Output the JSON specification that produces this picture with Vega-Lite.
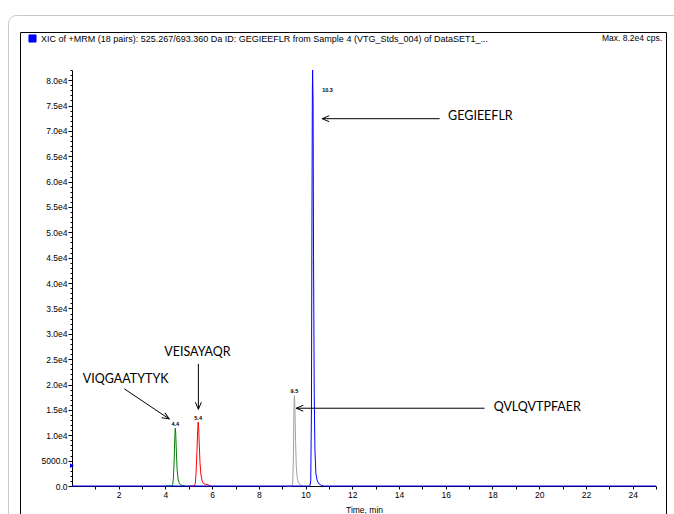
{
  "$schema": "https://vega.github.io/schema/vega-lite/v6.json",
  "width": 646,
  "height": 482,
  "autosize": {"type": "none"},
  "padding": {"left": 20, "top": 32, "right": 8, "bottom": 0},
  "background": "white",
  "title": {"text": "Max. 8.2e4 cps.", "anchor": "end", "frame": "group", "offset": -27.5, "dx": -4, "font": "Liberation Sans", "fontSize": 8.5, "fontWeight": "normal", "color": "black"},
  "config": {
    "view": {"stroke": "black", "strokeWidth": 1},
    "axis": {"labelFont": "Liberation Sans", "labelFontSize": 8.5, "labelColor": "black", "titleFont": "Liberation Sans", "titleFontSize": 8.5, "titleFontWeight": "normal", "titleColor": "black", "domainColor": "black", "tickColor": "black", "grid": false}
  },
  "datasets": {
    "traces": [
      {"pep": "VIQGAATYTYK", "t": 4.0, "v": 0}, {"pep": "VIQGAATYTYK", "t": 4.28, "v": 0}, {"pep": "VIQGAATYTYK", "t": 4.31, "v": 300}, {"pep": "VIQGAATYTYK", "t": 4.34, "v": 1500}, {"pep": "VIQGAATYTYK", "t": 4.37, "v": 4500}, {"pep": "VIQGAATYTYK", "t": 4.40, "v": 9500}, {"pep": "VIQGAATYTYK", "t": 4.42, "v": 11400}, {"pep": "VIQGAATYTYK", "t": 4.44, "v": 10500}, {"pep": "VIQGAATYTYK", "t": 4.47, "v": 6500}, {"pep": "VIQGAATYTYK", "t": 4.50, "v": 3200}, {"pep": "VIQGAATYTYK", "t": 4.54, "v": 1500}, {"pep": "VIQGAATYTYK", "t": 4.58, "v": 700}, {"pep": "VIQGAATYTYK", "t": 4.64, "v": 300}, {"pep": "VIQGAATYTYK", "t": 4.72, "v": 100}, {"pep": "VIQGAATYTYK", "t": 4.85, "v": 0},
      {"pep": "VEISAYAQR", "t": 5.0, "v": 0}, {"pep": "VEISAYAQR", "t": 5.24, "v": 0}, {"pep": "VEISAYAQR", "t": 5.28, "v": 500}, {"pep": "VEISAYAQR", "t": 5.31, "v": 2500}, {"pep": "VEISAYAQR", "t": 5.35, "v": 7000}, {"pep": "VEISAYAQR", "t": 5.38, "v": 11000}, {"pep": "VEISAYAQR", "t": 5.40, "v": 12600}, {"pep": "VEISAYAQR", "t": 5.42, "v": 11800}, {"pep": "VEISAYAQR", "t": 5.45, "v": 8000}, {"pep": "VEISAYAQR", "t": 5.48, "v": 4500}, {"pep": "VEISAYAQR", "t": 5.52, "v": 2200}, {"pep": "VEISAYAQR", "t": 5.57, "v": 1000}, {"pep": "VEISAYAQR", "t": 5.63, "v": 500}, {"pep": "VEISAYAQR", "t": 5.70, "v": 350}, {"pep": "VEISAYAQR", "t": 5.78, "v": 300}, {"pep": "VEISAYAQR", "t": 5.86, "v": 150}, {"pep": "VEISAYAQR", "t": 5.95, "v": 0},
      {"pep": "QVLQVTPFAER", "t": 9.2, "v": 0}, {"pep": "QVLQVTPFAER", "t": 9.42, "v": 0}, {"pep": "QVLQVTPFAER", "t": 9.45, "v": 800}, {"pep": "QVLQVTPFAER", "t": 9.48, "v": 6000}, {"pep": "QVLQVTPFAER", "t": 9.50, "v": 15000}, {"pep": "QVLQVTPFAER", "t": 9.52, "v": 17800}, {"pep": "QVLQVTPFAER", "t": 9.54, "v": 16000}, {"pep": "QVLQVTPFAER", "t": 9.57, "v": 9000}, {"pep": "QVLQVTPFAER", "t": 9.60, "v": 4000}, {"pep": "QVLQVTPFAER", "t": 9.64, "v": 1600}, {"pep": "QVLQVTPFAER", "t": 9.70, "v": 600}, {"pep": "QVLQVTPFAER", "t": 9.78, "v": 200}, {"pep": "QVLQVTPFAER", "t": 9.88, "v": 0},
      {"pep": "GEGIEEFLR", "t": 0, "v": 0}, {"pep": "GEGIEEFLR", "t": 10.18, "v": 0}, {"pep": "GEGIEEFLR", "t": 10.22, "v": 1000}, {"pep": "GEGIEEFLR", "t": 10.25, "v": 15000}, {"pep": "GEGIEEFLR", "t": 10.27, "v": 50000}, {"pep": "GEGIEEFLR", "t": 10.29, "v": 78000}, {"pep": "GEGIEEFLR", "t": 10.30, "v": 82000}, {"pep": "GEGIEEFLR", "t": 10.32, "v": 76000}, {"pep": "GEGIEEFLR", "t": 10.34, "v": 45000}, {"pep": "GEGIEEFLR", "t": 10.37, "v": 18000}, {"pep": "GEGIEEFLR", "t": 10.40, "v": 7000}, {"pep": "GEGIEEFLR", "t": 10.44, "v": 2500}, {"pep": "GEGIEEFLR", "t": 10.50, "v": 1000}, {"pep": "GEGIEEFLR", "t": 10.58, "v": 400}, {"pep": "GEGIEEFLR", "t": 10.68, "v": 100}, {"pep": "GEGIEEFLR", "t": 10.78, "v": 0}, {"pep": "GEGIEEFLR", "t": 25, "v": 0}
    ],
    "peaks": [
      {"lab": "4.4", "t": 4.42, "v": 12300},
      {"lab": "5.4", "t": 5.40, "v": 13500},
      {"lab": "9.5", "t": 9.52, "v": 18800},
      {"lab": "10.3", "t": 10.94, "v": 78100}
    ],
    "arrows": [
      {"name": "GEGIEEFLR", "t": 10.71, "v": 72400, "t2": 15.74, "v2": 72400},
      {"name": "QVLQVTPFAER", "t": 9.6, "v": 15330, "t2": 17.66, "v2": 15330},
      {"name": "VEISAYAQR", "t": 5.41, "v": 15130, "t2": 5.41, "v2": 24080},
      {"name": "VIQGAATYTYK", "t": 4.16, "v": 13220, "t2": 2.24, "v2": 19145}
    ],
    "notes": [
      {"name": "GEGIEEFLR", "t": 16.1, "v": 73000},
      {"name": "QVLQVTPFAER", "t": 18.05, "v": 15600},
      {"name": "VEISAYAQR", "t": 3.95, "v": 26500},
      {"name": "VIQGAATYTYK", "t": 0.46, "v": 21000}
    ],
    "marker": [
      {"what": "threshold", "t": 0, "v": 4000}
    ]
  },
  "encoding": {
    "x": {
      "field": "t", "type": "quantitative",
      "scale": {"domain": [0, 25], "range": [52, 636], "nice": false, "zero": false},
      "axis": {"title": "Time, min", "orient": "bottom", "offset": -28, "values": [1,2,3,4,5,6,7,8,9,10,11,12,13,14,15,16,17,18,19,20,21,22,23,24,25], "labelExpr": "datum.value % 2 === 0 ? datum.label : ''", "tickSize": 3, "labelPadding": 1, "titlePadding": 7, "labelOverlap": false, "labelFlush": false}
    },
    "y": {
      "field": "v", "type": "quantitative",
      "scale": {"domain": [0, 82000], "range": [454, 38], "nice": false, "zero": false},
      "axis": {"title": null, "orient": "left", "offset": -52, "values": [0,1000,2000,3000,4000,5000,6000,7000,8000,9000,10000,11000,12000,13000,14000,15000,16000,17000,18000,19000,20000,21000,22000,23000,24000,25000,26000,27000,28000,29000,30000,31000,32000,33000,34000,35000,36000,37000,38000,39000,40000,41000,42000,43000,44000,45000,46000,47000,48000,49000,50000,51000,52000,53000,54000,55000,56000,57000,58000,59000,60000,61000,62000,63000,64000,65000,66000,67000,68000,69000,70000,71000,72000,73000,74000,75000,76000,77000,78000,79000,80000,81000,82000], "labelExpr": "datum.value % 5000 !== 0 ? '' : (datum.value === 0 ? '0.0' : (datum.value === 5000 ? '5000.0' : format(datum.value / 10000, '.1f') + 'e4'))", "tickSize": {"condition": {"test": "datum.value % 5000 === 0", "value": 4}, "value": 2}, "labelPadding": 1, "labelOverlap": false, "labelFlush": false}
    }
  },
  "layer": [
    {
      "data": {"name": "traces"},
      "mark": {"type": "line", "strokeWidth": 1, "clip": true},
      "encoding": {
        "color": {
          "field": "pep", "type": "nominal",
          "scale": {"domain": ["VIQGAATYTYK", "VEISAYAQR", "QVLQVTPFAER", "GEGIEEFLR"], "range": ["#008000", "#ff0000", "#a0a0a0", "#0000ff"]},
          "legend": {"values": ["GEGIEEFLR"], "orient": "none", "legendX": 8, "legendY": 2, "title": null, "padding": 0, "symbolType": "square", "symbolSize": 50, "labelFont": "Liberation Sans", "labelFontSize": 9, "labelColor": "black", "labelLimit": 0, "labelOffset": 4,
            "labelExpr": "'XIC of +MRM (18 pairs): 525.267/693.360 Da ID: ' + datum.label + ' from Sample 4 (VTG_Stds_004) of DataSET1_...'",
            "encode": {"symbols": {"update": {"fill": {"value": "#0000ff"}, "stroke": {"value": "#00006b"}, "strokeWidth": {"value": 1}, "shape": {"value": "square"}}}}}
        }
      }
    },
    {
      "data": {"name": "peaks"},
      "mark": {"type": "text", "font": "Liberation Sans", "fontSize": 5.5, "fontWeight": "bold", "align": "center", "baseline": "middle", "color": "black"},
      "encoding": {"text": {"field": "lab"}}
    },
    {
      "data": {"name": "arrows"},
      "mark": {"type": "rule", "color": "black", "strokeWidth": 1},
      "encoding": {"x2": {"field": "t2"}, "y2": {"field": "v2"}}
    },
    {
      "data": {"name": "arrows"},
      "transform": [{"filter": "datum.name === 'GEGIEEFLR' || datum.name === 'QVLQVTPFAER'"}],
      "mark": {"type": "point", "shape": "M3.5,-1.5L0,0L3.5,1.5", "size": 16, "filled": false, "stroke": "black", "strokeWidth": 1, "opacity": 1},
      "encoding": {}
    },
    {
      "data": {"name": "arrows"},
      "transform": [{"filter": "datum.name === 'VEISAYAQR'"}],
      "mark": {"type": "point", "shape": "M3.5,-1.5L0,0L3.5,1.5", "size": 16, "filled": false, "stroke": "black", "strokeWidth": 1, "opacity": 1, "angle": 270},
      "encoding": {}
    },
    {
      "data": {"name": "arrows"},
      "transform": [{"filter": "datum.name === 'VIQGAATYTYK'"}],
      "mark": {"type": "point", "shape": "M3.5,-1.5L0,0L3.5,1.5", "size": 16, "filled": false, "stroke": "black", "strokeWidth": 1, "opacity": 1, "angle": 212},
      "encoding": {}
    },
    {
      "data": {"name": "notes"},
      "mark": {"type": "text", "font": "Lato", "fontSize": 12.5, "align": "left", "baseline": "middle", "color": "black"},
      "encoding": {"text": {"field": "name"}}
    },
    {
      "data": {"name": "marker"},
      "mark": {"type": "point", "size": 22, "filled": true, "color": "#0000ff", "opacity": 1},
      "encoding": {
        "shape": {
          "field": "what", "type": "nominal",
          "scale": {"range": ["triangle-right"]},
          "legend": {"orient": "none", "legendX": -12, "legendY": -17, "padding": 400, "title": null, "strokeColor": "#c8c8c8", "cornerRadius": 8, "symbolOpacity": 0, "symbolSize": 0, "labelExpr": "''",
            "encode": {"legend": {"update": {"stroke": {"value": "#c8c8c8"}, "strokeWidth": {"value": 1.5}, "cornerRadius": {"value": 8}, "fill": {"value": "transparent"}}}}}
        }
      }
    }
  ]
}
